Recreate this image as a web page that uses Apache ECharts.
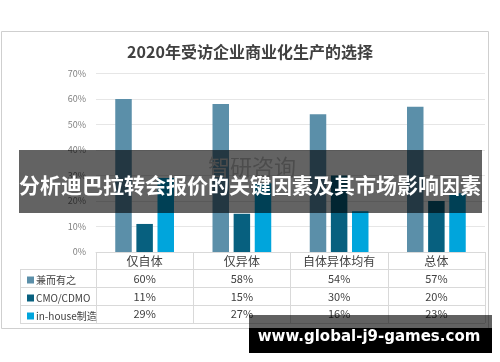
<!DOCTYPE html>
<html><head><meta charset="utf-8">
<script src="https://cdn.jsdelivr.net/npm/echarts@6/dist/echarts.min.js"></script>
<style>html,body{margin:0;padding:0;background:#fff}#c{width:500px;height:362px}</style>
</head><body><div id="c"></div>
<script>
const title = '2020年受访企业商业化生产的选择';
const categories = ['仅自体', '仅异体', '自体异体均有', '总体'];
const seriesNames = ['兼而有之', 'CMO/CDMO', 'in-house制造'];
const valuesBoth = [60, 58, 54, 57];
const valuesCMO = [11, 15, 30, 20];
const valuesInhouse = [29, 27, 16, 23];
const yTicks = [0, 10, 20, 30, 40, 50, 60, 70];
const bannerText = '分析迪巴拉转会报价的关键因素及其市场影响因素';
const watermark = '智研咨询';
const urlText = 'www.global-j9-games.com';

const colors = ['#5B8FA9', '#07607F', '#00A5DC'];
const allVals = [valuesBoth, valuesCMO, valuesInhouse];
const F = '"Noto Sans CJK SC", "Noto Sans", sans-serif';
const gridL = 96, gridR = 15, gridT = 73.5, gridB = 110;
const axisY = 362 - gridB;
const rowH = 18;
const lineC = '#d9d9d9';

const chart = echarts.init(document.getElementById('c'));

const rowAxes = allVals.map((vals, r) => ({
  type: 'category', data: categories, position: 'bottom', offset: rowH * (r + 1) - (r === 2 ? 1 : 0),
  axisLine: {show: false}, axisTick: {show: false},
  axisLabel: {margin: 3, fontSize: 11, color: '#404040', fontFamily: F, lineHeight: 12,
    formatter: (v, i) => vals[i] + '%'}
}));

const graphics = [
  {type: 'rect', shape: {x: 1.5, y: 31.5, width: 487, height: 297}, style: {fill: 'none', stroke: '#cfcfcf', lineWidth: 1}, z: 0},
  {type: 'line', shape: {x1: gridL + 0.5, y1: axisY, x2: gridL + 0.5, y2: axisY + rowH * 4 - 1}, style: {stroke: lineC, lineWidth: 1}},
  {type: 'line', shape: {x1: 20.5, y1: axisY + rowH - 1, x2: 20.5, y2: axisY + rowH * 4 - 1}, style: {stroke: lineC, lineWidth: 1}},
];
for (let k = 1; k <= 4; k++) {
  const y = Math.round(axisY + rowH * k - 1) + 0.5;
  graphics.push({type: 'line', shape: {x1: 20, y1: y, x2: 500 - gridR, y2: y}, style: {stroke: lineC, lineWidth: 1}});
}
graphics.push(
  {type: 'text', left: 208, top: 156, style: {text: watermark, font: '22px ' + F, fill: '#c4c4c4'}, z: 5},
  {type: 'rect', shape: {x: 19, y: 150, width: 463, height: 63}, style: {fill: 'rgba(0,0,0,0.61)'}, z: 10},
  {type: 'text', x: 250, y: 185, style: {text: bannerText, font: 'bold 21px ' + F, fill: '#fff', align: 'center', verticalAlign: 'middle'}, z: 11},
  {type: 'rect', shape: {x: 249, y: 315, width: 243, height: 13}, style: {fill: 'rgba(0,0,0,0.62)'}, z: 10},
  {type: 'rect', shape: {x: 249, y: 328, width: 243, height: 25}, style: {fill: '#000'}, z: 10},
  {type: 'text', x: 369, y: 337, style: {text: urlText, font: 'bold 15px "DejaVu Sans", sans-serif', fill: '#fff', align: 'center', verticalAlign: 'middle'}, z: 11}
);

chart.setOption({
  animation: false,
  title: {text: title, left: 'center', top: 39, textStyle: {fontSize: 16, fontWeight: 'bold', color: '#404040', fontFamily: F}},
  legend: {orient: 'vertical', left: 22, top: 269, itemWidth: 7, itemHeight: 7, itemGap: 6, icon: 'rect',
    textStyle: {fontSize: 10, color: '#404040', fontFamily: F, lineHeight: 12, padding: [0, 0, 0, -3]},
    data: seriesNames},
  grid: {left: gridL, right: gridR, top: gridT, bottom: gridB},
  xAxis: [{
    type: 'category', data: categories, position: 'bottom',
    axisLine: {lineStyle: {color: lineC}},
    axisTick: {show: true, length: rowH * 4 - 1, lineStyle: {color: lineC}},
    axisLabel: {margin: 3, fontSize: 12, color: '#404040', fontFamily: F, lineHeight: 12}
  }].concat(rowAxes),
  yAxis: {type: 'value', min: 0, max: 70, interval: 10,
    axisLine: {show: false}, axisTick: {show: false},
    splitLine: {lineStyle: {color: '#e6e6e6'}},
    axisLabel: {margin: 10, fontSize: 9, color: '#808080', fontFamily: F, formatter: v => v + '%'}},
  series: allVals.map((vals, i) => ({
    name: seriesNames[i], type: 'bar', data: vals, barWidth: 16.5, barGap: '28%',
    itemStyle: {color: colors[i]}
  })),
  graphic: graphics
});
</script></body></html>
